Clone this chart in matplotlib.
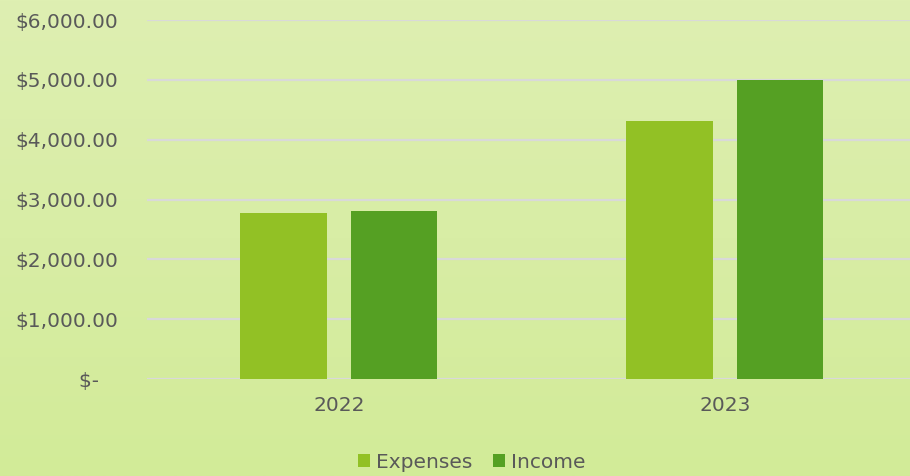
import numpy as np
import matplotlib.pyplot as plt
from matplotlib.ticker import FuncFormatter

years = ['2022', '2023']
expenses = [2775, 4310]
income = [2810, 5000]
y_ticks = [0, 1000, 2000, 3000, 4000, 5000, 6000]

text_color = '#595959'
expense_color = '#92C125'
income_color = '#55A023'

fig = plt.figure(figsize=(9.10, 4.76), dpi=100)

# Background gradient across the whole figure
bg = fig.add_axes([0, 0, 1, 1])
top = np.array([0xDE, 0xEF, 0xB2]) / 255
bottom = np.array([0xD2, 0xEB, 0x98]) / 255
t = np.linspace(0, 1, 256)[:, None]
grad = top * (1 - t) + bottom * t
bg.imshow(grad[:, None, :], aspect='auto', extent=[0, 1, 0, 1])
bg.axis('off')

ax = fig.add_axes([147 / 910, 97 / 476, 763 / 910, 359 / 476])
ax.patch.set_alpha(0)

x = np.arange(len(years))
width = 0.225
offset = 0.143

ax.bar(x - offset, expenses, width, color=expense_color, label='Expenses', zorder=3)
ax.bar(x + offset, income, width, color=income_color, label='Income', zorder=3)

ax.set_xlim(-0.497, 1.48)
ax.set_ylim(0, 6000)
ax.set_yticks(y_ticks)
# accounting style: zero shown as a dash, set in from the right
ax.yaxis.set_major_formatter(FuncFormatter(lambda v, p: '$-   ' if v == 0 else f'${v:,.2f}'))
ax.set_xticks(x)
ax.set_xticklabels(years)

ax.grid(axis='y', color='#D9D9D9', linewidth=1.6, zorder=0)
for s in ax.spines.values():
    s.set_visible(False)
ax.tick_params(axis='both', length=0, colors=text_color, labelsize=14.5)
ax.tick_params(axis='y', pad=21)
ax.tick_params(axis='x', pad=12)

fig.legend(loc='center', bbox_to_anchor=(472 / 910, 1 - 462 / 476), ncol=2, frameon=False,
           fontsize=14.5, labelcolor=text_color, handlelength=0.6, handleheight=0.6,
           handletextpad=0.3, columnspacing=1.0)

fig.savefig('out.png', dpi=100)
